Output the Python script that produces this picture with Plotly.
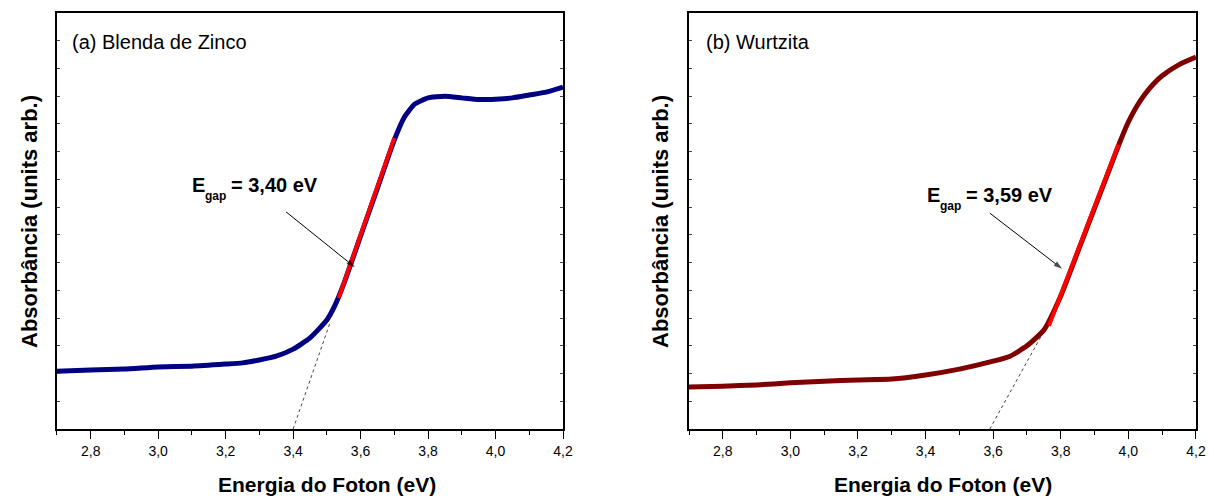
import plotly.graph_objects as go

# ---------------- data ----------------
energy_a = [2.7, 2.8, 2.9, 3.0, 3.1, 3.2, 3.25, 3.3, 3.35, 3.4, 3.45, 3.5, 3.525, 3.55, 3.575, 3.6,
            3.65, 3.7, 3.73, 3.76, 3.8, 3.85, 3.9, 3.95, 4.0, 4.05, 4.1, 4.15, 4.2]
absorb_a = [13.9, 14.2, 14.4, 14.9, 15.1, 15.6, 15.9, 16.6, 17.5, 19.2, 21.9, 26.2, 29.9, 34.9, 40.6, 46.4,
            57.9, 69.5, 75.0, 78.1, 79.6, 80.0, 79.6, 79.2, 79.3, 79.6, 80.3, 81.0, 82.2]
fit_a_x = [3.535, 3.70]
fit_a_y = [31.5, 70.0]
extrap_a_x = [3.40, 3.51]
extrap_a_y = [0.0, 25.7]
arrow_a_x = [3.379, 3.583]
arrow_a_y = [52.2, 38.9]

energy_b = [2.7, 2.8, 2.9, 3.0, 3.1, 3.2, 3.3, 3.4, 3.5, 3.6, 3.65, 3.7, 3.75, 3.8, 3.85,
            3.9, 3.95, 3.975, 4.0, 4.025, 4.05, 4.075, 4.1, 4.15, 4.2]
absorb_b = [10.1, 10.3, 10.6, 11.1, 11.5, 11.8, 12.0, 13.0, 14.4, 16.3, 17.5, 20.0, 23.8, 32.0, 42.5,
            53.1, 63.7, 69.0, 73.8, 77.6, 80.6, 83.0, 84.9, 87.6, 89.4]
fit_b_x = [3.765, 3.97]
fit_b_y = [24.8, 68.3]
extrap_b_x = [3.59, 3.75]
extrap_b_y = [0.0, 23.5]
arrow_b_x = [3.59, 3.804]
arrow_b_y = [51.9, 38.5]

xtick_vals = [2.8, 3.0, 3.2, 3.4, 3.6, 3.8, 4.0, 4.2]
xtick_text = ["2,8", "3,0", "3,2", "3,4", "3,6", "3,8", "4,0", "4,2"]
ytick_vals = [i * 100 / 15 for i in range(16)]
top_ticks = [2.7 + 0.1 * i for i in range(16)]

panel_labels = ["(a) Blenda de Zinco", "(b) Wurtzita"]
gap_values = ["= 3,40 eV", "= 3,59 eV"]
x_title = "Energia do Foton (eV)"
y_title = "Absorbância (units arb.)"

SANS = "Liberation Sans, Arial"
W, H = 1209, 497

fig = go.Figure()


def add_panel(xa, ya, ex, ey, cx, cy, color, fx, fy, ax_, ay_):
    fig.add_trace(go.Scatter(x=ex, y=ey, mode="lines",
                             line=dict(color="#444444", width=1, dash="dot"), xaxis=xa, yaxis=ya))
    fig.add_trace(go.Scatter(x=cx, y=cy, mode="lines",
                             line=dict(color=color, width=5, shape="spline", smoothing=0.5),
                             xaxis=xa, yaxis=ya))
    fig.add_trace(go.Scatter(x=fx, y=fy, mode="lines",
                             line=dict(color="#ff0000", width=4), xaxis=xa, yaxis=ya))
    fig.add_trace(go.Scatter(x=ax_, y=ay_, mode="lines+markers",
                             line=dict(color="black", width=1),
                             marker=dict(symbol="arrow", size=[0, 9], color="black",
                                         angleref="previous", line=dict(width=0)),
                             xaxis=xa, yaxis=ya))


add_panel("x", "y", extrap_a_x, extrap_a_y, energy_a, absorb_a, "#000080",
          fit_a_x, fit_a_y, arrow_a_x, arrow_a_y)
add_panel("x2", "y2", extrap_b_x, extrap_b_y, energy_b, absorb_b, "#7f0000",
          fit_b_x, fit_b_y, arrow_b_x, arrow_b_y)

dom_y = [0.1368, 0.9738]
dom_a = [0.0471, 0.4657]
dom_b = [0.5699, 0.9892]


def xaxis_cfg(domain, anchor):
    return dict(domain=domain, anchor=anchor, range=[2.7, 4.2], showline=True, linecolor="black",
                linewidth=1.5, mirror=True, ticks="outside", ticklen=8, tickwidth=1.2,
                tickcolor="black", tickvals=xtick_vals, ticktext=xtick_text, automargin=False,
                tickfont=dict(family=SANS, size=14, color="black"),
                minor=dict(dtick=0.1, tick0=2.7, ticks="outside", ticklen=4, tickcolor="black",
                           tickwidth=1.2),
                showgrid=False, zeroline=False)


def top_cfg(domain, overlay, anchor):
    return dict(domain=domain, overlaying=overlay, anchor=anchor, side="top", range=[2.7, 4.2],
                tickvals=top_ticks, ticks="inside", ticklen=3, tickcolor="#444444", tickwidth=1,
                showticklabels=False, showgrid=False, zeroline=False, showline=False,
                automargin=False)


def yaxis_cfg(anchor):
    return dict(domain=dom_y, anchor=anchor, range=[0, 100], showline=True, linecolor="black",
                linewidth=1.5, mirror="ticks", ticks="inside", ticklen=3, tickcolor="#444444",
                tickwidth=1, tickvals=ytick_vals, showticklabels=False, showgrid=False,
                zeroline=False, automargin=False)


fig.update_layout(
    width=W, height=H, margin=dict(l=0, r=0, t=0, b=0, autoexpand=False),
    paper_bgcolor="white", plot_bgcolor="white", showlegend=False,
    xaxis=xaxis_cfg(dom_a, "y"), yaxis=yaxis_cfg("x"),
    xaxis2=xaxis_cfg(dom_b, "y2"), yaxis2=yaxis_cfg("x2"),
    xaxis3=top_cfg(dom_a, "x", "y"), xaxis4=top_cfg(dom_b, "x2", "y2"),
)


def text_at(px, py, txt, size, anchor="left", angle=0):
    fig.add_annotation(xref="paper", yref="paper", x=px / W, y=1 - py / H, text=txt,
                       showarrow=False, xanchor=anchor, yanchor="middle", textangle=angle,
                       borderpad=0, font=dict(family=SANS, size=size, color="black"))


# axis titles
for px in [29, 660]:
    text_at(px, 222, "<b>" + y_title + "</b>", 22, anchor="center", angle=-90)
for px in [327, 943]:
    text_at(px, 484, "<b>" + x_title + "</b>", 21, anchor="center")

# panel labels
text_at(71, 42, panel_labels[0], 20)
text_at(705, 42, panel_labels[1], 20)

# Egap labels: E + subscript "gap" + value
for (ex, ey), val in zip([(191, 185), (926, 195)], gap_values):
    text_at(ex, ey, "<b>E</b>", 20)
    text_at(ex + 13, ey + 11, "<b>gap</b>", 12)
    text_at(ex + 39, ey, "<b>" + val + "</b>", 20)

fig.write_html("out.html")
